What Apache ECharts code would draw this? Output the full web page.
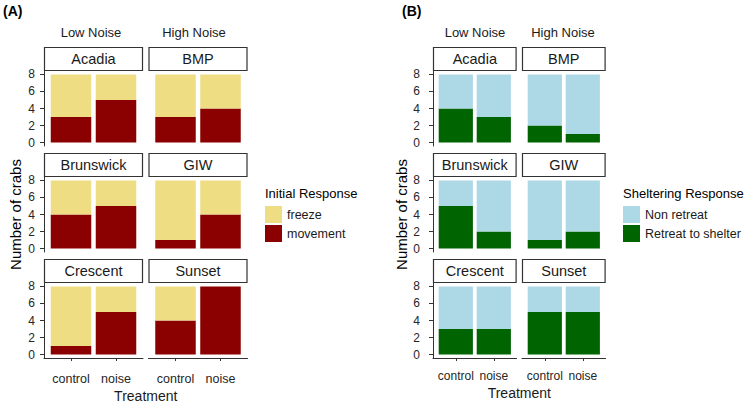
<!DOCTYPE html>
<html><head><meta charset="utf-8">
<script src="https://cdn.jsdelivr.net/npm/echarts@6/dist/echarts.min.js"></script>
<style>html,body{margin:0;padding:0;background:#fff}#c{width:748px;height:404px}</style>
</head><body><div id="c"></div>
<script>
// ---------- data ----------
const sites = ['Acadia', 'BMP', 'Brunswick', 'GIW', 'Crescent', 'Sunset'];
const treatments = ['control', 'noise'];
const noiseLevels = ['Low Noise', 'High Noise'];
const yTicks = [0, 2, 4, 6, 8];
// Panel A – Initial Response, per site: [control, noise]
const movement = [[3, 5], [3, 4], [4, 5], [1, 4], [1, 5], [4, 8]];
const freeze   = [[5, 3], [5, 4], [4, 3], [7, 4], [7, 3], [4, 0]];
// Panel B – Sheltering Response, per site: [control, noise]
const retreat    = [[4, 3], [2, 1], [5, 2], [1, 2], [3, 3], [5, 5]];
const nonRetreat = [[4, 5], [6, 7], [3, 6], [7, 6], [5, 5], [3, 3]];

// ---------- layout ----------
const FF = '"Liberation Sans", Arial, sans-serif';
const rowsTop = [47, 153, 259];
const stripH = 24, panelH = 75;
const panels = [
  { label: '(A)', labelX: 3, colX: [44, 148.5], w: 99,
    bottom: { name: 'movement', color: '#8B0000', data: movement },
    top: { name: 'freeze', color: '#EEDD82', data: freeze },
    legendTitle: 'Initial Response', legendX: 265,
    yLabelMargin: 9, xLabelMargin: 14, xLabelSize: 12.5, treatY: 396,
    noiseX: [91, 194], nameGap: 21 },
  { label: '(B)', labelX: 402, colX: [433, 522], w: 83.6,
    bottom: { name: 'Retreat to shelter', color: '#006400', data: retreat },
    top: { name: 'Non retreat', color: '#ADD8E6', data: nonRetreat },
    legendTitle: 'Sheltering Response', legendX: 623,
    yLabelMargin: 13, xLabelMargin: 11.5, xLabelSize: 12, treatY: 392.5,
    noiseX: [475, 563], nameGap: 20 }
];

const grids = [], xAxes = [], yAxes = [], series = [], graphics = [], legends = [];
const txt = (text, x, y, font, opts) => Object.assign({
  type: 'text', x: x, y: y, silent: true,
  style: { text: text, font: font, fill: '#1a1a1a', align: 'center', verticalAlign: 'middle',
           textAlign: 'center', textVerticalAlign: 'middle' }
}, opts || {});
const AX = '#333';

panels.forEach(p => {
  const unit = p.w / 2.2, inset = 0.1 * unit;
  sites.forEach((site, i) => {
    const row = Math.floor(i / 2), col = i % 2, gi = grids.length;
    grids.push({ left: p.colX[col] + inset, top: rowsTop[row] + stripH, width: 2 * unit, height: panelH,
                 containLabel: false, outerBoundsMode: 'none' });
    const bottomRow = row === 2, leftCol = col === 0;
    xAxes.push({
      type: 'category', gridIndex: gi, data: treatments,
      axisLine: { show: false, onZero: false },
      axisTick: { show: bottomRow, alignWithLabel: true, interval: 0, length: 3, lineStyle: { color: AX } },
      axisLabel: { show: bottomRow, interval: 0, hideOverlap: false, margin: p.xLabelMargin,
                   fontSize: p.xLabelSize, color: '#262626', fontFamily: FF },
      splitLine: { show: false }
    });
    yAxes.push({
      type: 'value', gridIndex: gi, min: -0.4, max: 8.4, offset: leftCol ? inset : 0,
      axisLine: { show: leftCol, onZero: false, lineStyle: { color: AX, width: 1 } },
      axisTick: { show: leftCol, length: 4, customValues: yTicks, lineStyle: { color: AX } },
      axisLabel: { show: leftCol, customValues: yTicks, margin: p.yLabelMargin, fontSize: 12, color: '#262626', fontFamily: FF },
      splitLine: { show: false },
      name: (leftCol && row === 1) ? 'Number of crabs' : '',
      nameLocation: 'middle', nameGap: p.nameGap,
      nameTextStyle: { fontSize: 15, color: '#000', fontFamily: FF }
    });
    [p.bottom, p.top].forEach(s => {
      series.push({
        type: 'bar', name: s.name, xAxisIndex: gi, yAxisIndex: gi, stack: 'st' + gi,
        barWidth: 0.9 * unit, data: s.data[i], itemStyle: { color: s.color },
        silent: true, animation: false
      });
    });
    // facet strip
    graphics.push({ type: 'rect', silent: true,
      shape: { x: p.colX[col] + 0.5, y: rowsTop[row] + 0.5, width: p.w - 1, height: stripH - 1 },
      style: { fill: '#fff', stroke: AX, lineWidth: 1.2 } });
    graphics.push(txt(site, p.colX[col] + p.w / 2, rowsTop[row] + stripH / 2, '14.5px ' + FF));
  });
  // full-width x axis lines under the bottom-row facets (panel frame axes, no data)
  [0, 1].forEach(col => {
    const gi = grids.length;
    grids.push({ left: p.colX[col], top: rowsTop[2] + stripH, width: p.w, height: panelH,
                 containLabel: false, outerBoundsMode: 'none' });
    xAxes.push({ type: 'value', gridIndex: gi, min: 0, max: 1,
      axisLine: { show: true, onZero: false, lineStyle: { color: AX, width: 1 } },
      axisTick: { show: false }, axisLabel: { show: false }, splitLine: { show: false } });
    yAxes.push({ type: 'value', gridIndex: gi, min: 0, max: 1,
      axisLine: { show: false }, axisTick: { show: false }, axisLabel: { show: false }, splitLine: { show: false } });
  });
  graphics.push(txt(p.label, p.labelX, 11, 'bold 14px ' + FF, {
    style: { text: p.label, font: 'bold 14px ' + FF, fill: '#000', align: 'left', verticalAlign: 'middle',
             textAlign: 'left', textVerticalAlign: 'middle' } }));
  noiseLevels.forEach((n, k) => graphics.push(txt(n, p.noiseX[k], 32.5, '13px ' + FF)));
  graphics.push(txt('Treatment', (p.colX[0] + p.colX[1] + p.w) / 2, p.treatY, '14px ' + FF, {}));
  graphics.push(txt(p.legendTitle, p.legendX, 193, '13px ' + FF, {
    style: { text: p.legendTitle, font: '13px ' + FF, fill: '#000', align: 'left', verticalAlign: 'middle',
             textAlign: 'left', textVerticalAlign: 'middle' } }));
  legends.push({
    data: [p.top.name, p.bottom.name], orient: 'vertical', left: p.legendX, top: 206,
    itemWidth: 17, itemHeight: 17, itemGap: 2, padding: 0, icon: 'rect', selectedMode: false,
    textStyle: { fontSize: 12.5, color: '#1a1a1a', fontFamily: FF }
  });
});

const chart = echarts.init(document.getElementById('c'), null, { renderer: 'svg', width: 748, height: 404 });
chart.setOption({
  animation: false,
  backgroundColor: '#fff',
  textStyle: { fontFamily: FF },
  grid: grids, xAxis: xAxes, yAxis: yAxes, series: series,
  legend: legends, graphic: graphics
});
</script></body></html>
